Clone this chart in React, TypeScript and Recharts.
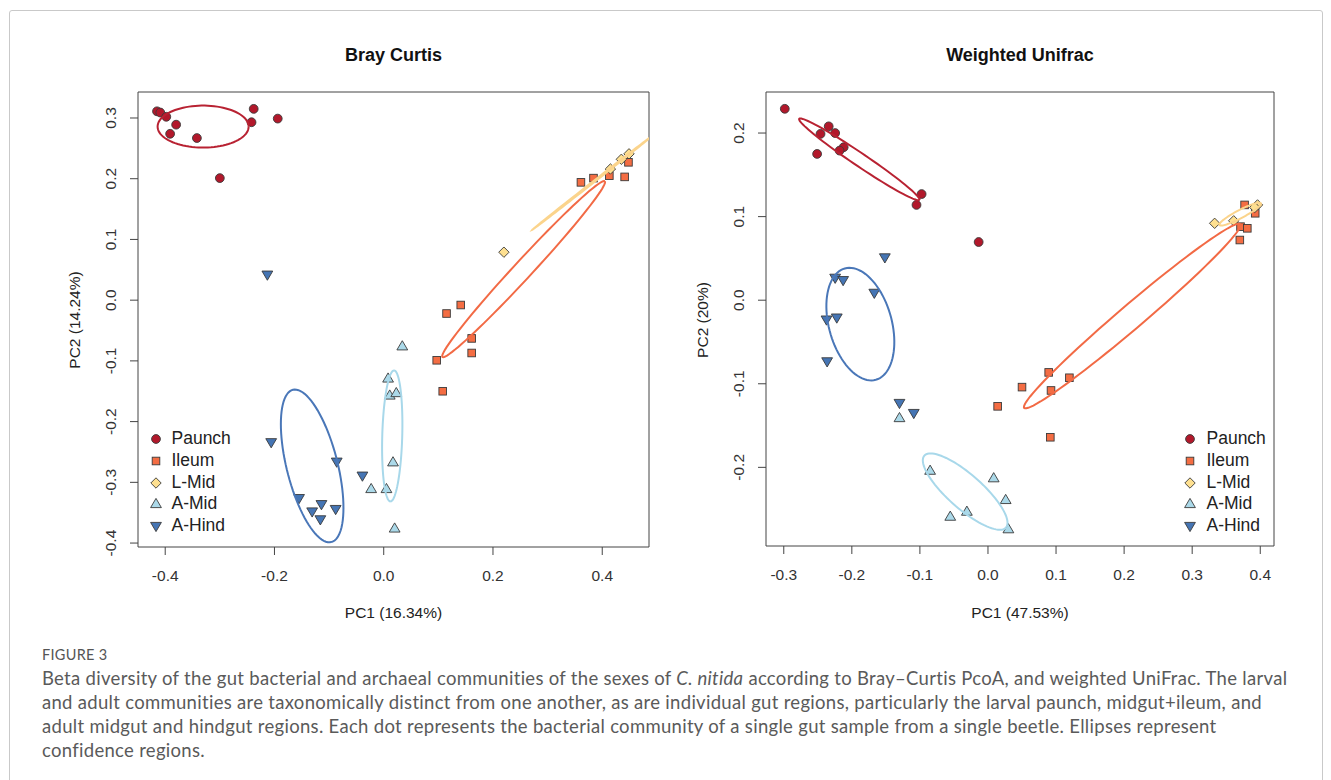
import React from 'react';
import { ScatterChart, Scatter, XAxis, YAxis, ReferenceArea } from 'recharts';

type Pt = { x: number; y: number };

// ---------- categories & styling keys ----------
const groupNames = ['Paunch', 'Ileum', 'L-Mid', 'A-Mid', 'A-Hind'];
const groupFills = ['#B2182B', '#F46D43', '#FEE090', '#ABD9E9', '#4575B4'];
const ellipseStrokes = ['#B82232', '#F26A45', '#FBD48C', '#A8D8EA', '#4A77B8'];
const groupShapes = ['circle', 'square', 'diamond', 'triUp', 'triDown'];

// ---------- Bray Curtis (PC1, PC2) ----------
const bcPaunch: Pt[] = [
  { x: -0.415, y: 0.311 }, { x: -0.409, y: 0.309 }, { x: -0.398, y: 0.302 },
  { x: -0.380, y: 0.289 }, { x: -0.391, y: 0.274 }, { x: -0.342, y: 0.267 },
  { x: -0.300, y: 0.201 }, { x: -0.238, y: 0.315 }, { x: -0.242, y: 0.293 },
  { x: -0.194, y: 0.299 },
];
const bcIleum: Pt[] = [
  { x: 0.361, y: 0.194 }, { x: 0.384, y: 0.201 }, { x: 0.413, y: 0.205 },
  { x: 0.441, y: 0.203 }, { x: 0.448, y: 0.227 }, { x: 0.141, y: -0.008 },
  { x: 0.115, y: -0.022 }, { x: 0.161, y: -0.063 }, { x: 0.161, y: -0.087 },
  { x: 0.097, y: -0.099 }, { x: 0.108, y: -0.150 },
];
const bcLMid: Pt[] = [
  { x: 0.220, y: 0.079 }, { x: 0.415, y: 0.216 }, { x: 0.435, y: 0.232 },
  { x: 0.449, y: 0.241 },
];
const bcAMid: Pt[] = [
  { x: 0.034, y: -0.076 }, { x: 0.008, y: -0.129 }, { x: 0.011, y: -0.157 },
  { x: 0.023, y: -0.153 }, { x: 0.017, y: -0.267 }, { x: -0.023, y: -0.311 },
  { x: 0.005, y: -0.311 }, { x: 0.020, y: -0.376 },
];
const bcAHind: Pt[] = [
  { x: -0.206, y: -0.234 }, { x: -0.086, y: -0.266 }, { x: -0.039, y: -0.289 },
  { x: -0.155, y: -0.326 }, { x: -0.131, y: -0.348 }, { x: -0.114, y: -0.336 },
  { x: -0.088, y: -0.344 }, { x: -0.116, y: -0.361 }, { x: -0.213, y: 0.042 },
];
// ellipse: [centerX, centerY, axis1X, axis1Y, axis2X, axis2Y]
const bcEllipses: number[][] = [
  [-0.3306, 0.2858, 0.0833, 0, 0, 0.0346],
  [0.2561, 0.0511, 0.1486, 0.1447, 0.0121, -0.0101],
  [0.380, 0.192, 0.1077, 0.0759, 0.0008, -0.0009],
  [0.0156, -0.2236, -0.0033, -0.1079, 0.0183, 0],
  [-0.1310, -0.2730, 0.0352, -0.1254, 0.0452, 0.0102],
];
const bcXDomain = [-0.4498, 0.4856];
const bcYDomain = [-0.4065, 0.3428];
const bcXTicks = [-0.4, -0.2, 0.0, 0.2, 0.4];
const bcYTicks = [-0.4, -0.3, -0.2, -0.1, 0.0, 0.1, 0.2, 0.3];

// ---------- Weighted UniFrac (PC1, PC2) ----------
const wuPaunch: Pt[] = [
  { x: -0.2985, y: 0.229 }, { x: -0.234, y: 0.208 }, { x: -0.246, y: 0.199 },
  { x: -0.2245, y: 0.200 }, { x: -0.212, y: 0.183 }, { x: -0.218, y: 0.179 },
  { x: -0.251, y: 0.175 }, { x: -0.0975, y: 0.127 }, { x: -0.105, y: 0.114 },
  { x: -0.0137, y: 0.0696 },
];
const wuIleum: Pt[] = [
  { x: 0.377, y: 0.114 }, { x: 0.3926, y: 0.104 }, { x: 0.371, y: 0.088 },
  { x: 0.381, y: 0.086 }, { x: 0.370, y: 0.072 }, { x: 0.0892, y: -0.0864 },
  { x: 0.1196, y: -0.0928 }, { x: 0.050, y: -0.104 }, { x: 0.0926, y: -0.108 },
  { x: 0.0916, y: -0.164 }, { x: 0.0142, y: -0.127 },
];
const wuLMid: Pt[] = [
  { x: 0.333, y: 0.092 }, { x: 0.361, y: 0.095 }, { x: 0.396, y: 0.114 },
  { x: 0.392, y: 0.111 },
];
const wuAMid: Pt[] = [
  { x: -0.130, y: -0.141 }, { x: -0.085, y: -0.204 }, { x: 0.0084, y: -0.213 },
  { x: 0.026, y: -0.239 }, { x: -0.031, y: -0.253 }, { x: -0.0554, y: -0.259 },
  { x: 0.030, y: -0.274 },
];
const wuAHind: Pt[] = [
  { x: -0.1515, y: 0.0512 }, { x: -0.2245, y: 0.0268 }, { x: -0.2128, y: 0.024 },
  { x: -0.167, y: 0.0088 }, { x: -0.2372, y: -0.0232 }, { x: -0.2221, y: -0.0208 },
  { x: -0.2363, y: -0.0732 }, { x: -0.130, y: -0.123 }, { x: -0.109, y: -0.135 },
];
const wuEllipses: number[][] = [
  [-0.189, 0.1685, 0.0883, -0.0485, -0.00534, -0.00648],
  [0.212, -0.0189, 0.1588, 0.110, 0.0114, -0.011],
  [0.3705, 0.103, 0.0305, 0.013, 0.0027, -0.0043],
  [-0.0335, -0.229, 0.060, -0.043, 0.0165, 0.0154],
  [-0.1875, -0.0286, 0.0228, -0.0666, 0.0444, 0.0101],
];
const wuXDomain = [-0.3261, 0.4202];
const wuYDomain = [-0.2941, 0.2491];
const wuXTicks = [-0.3, -0.2, -0.1, 0.0, 0.1, 0.2, 0.3, 0.4];
const wuYTicks = [-0.2, -0.1, 0.0, 0.1, 0.2];

const captionLines = [
  'and adult communities are taxonomically distinct from one another, as are individual gut regions, particularly the larval paunch, midgut+ileum, and',
  'adult midgut and hindgut regions. Each dot represents the bacterial community of a single gut sample from a single beetle. Ellipses represent',
  'confidence regions.',
];

// ---------- helpers ----------
const FONT = '"Liberation Sans", Arial, Helvetica, sans-serif';
const TICK_SIZE = 15.5;

function ellipsePoints(e: number[]): Pt[] {
  const [cx, cy, ax, ay, bx, by] = e;
  const pts: Pt[] = [];
  const n = 90;
  for (let i = 0; i <= n; i++) {
    const t = (i / n) * Math.PI * 2;
    pts.push({ x: cx + Math.cos(t) * ax + Math.sin(t) * bx, y: cy + Math.cos(t) * ay + Math.sin(t) * by });
  }
  return pts;
}

function Marker({ kind, cx, cy, fill }: { kind: string; cx: number; cy: number; fill: string }) {
  const st = { fill, stroke: '#3a3a3a', strokeWidth: 0.9 };
  if (kind === 'circle') return <circle cx={cx} cy={cy} r={4.4} {...st} />;
  if (kind === 'square') return <rect x={cx - 3.8} y={cy - 3.8} width={7.6} height={7.6} {...st} />;
  if (kind === 'diamond')
    return <polygon points={`${cx},${cy - 5.2} ${cx + 5.2},${cy} ${cx},${cy + 5.2} ${cx - 5.2},${cy}`} {...st} />;
  if (kind === 'triUp')
    return <polygon points={`${cx},${cy - 5.6} ${cx + 5.4},${cy + 3.6} ${cx - 5.4},${cy + 3.6}`} {...st} />;
  return <polygon points={`${cx - 5.4},${cy - 3.6} ${cx + 5.4},${cy - 3.6} ${cx},${cy + 5.6}`} {...st} />;
}

const fmt = (v: number) => (Math.abs(v) < 1e-9 ? '0.0' : v.toFixed(1));

const XTick = (p: any) => (
  <text x={p.x} y={p.y} dy="0.71em" textAnchor="middle" fontSize={TICK_SIZE} fill="#333" fontFamily={FONT}>
    {fmt(p.payload.value)}
  </text>
);
const YTick = (p: any) => (
  <text x={p.x} y={p.y} textAnchor="middle" fontSize={TICK_SIZE} fill="#333" fontFamily={FONT}
    transform={`rotate(-90 ${p.x} ${p.y})`}>
    {fmt(p.payload.value)}
  </text>
);

type PanelProps = {
  series: Pt[][];
  ellipses: number[][];
  xDomain: number[];
  yDomain: number[];
  xTicks: number[];
  yTicks: number[];
  width: number;
  height: number;
  margin: { top: number; right: number; bottom: number; left: number };
};

function Panel(p: PanelProps) {
  return (
    <ScatterChart width={p.width} height={p.height} margin={p.margin}>
      <XAxis type="number" dataKey="x" domain={p.xDomain} ticks={p.xTicks} allowDataOverflow interval={0}
        axisLine={false} tickLine={{ stroke: '#444' }} tickSize={8} tickMargin={15} height={60} tick={XTick} />
      <YAxis type="number" dataKey="y" domain={p.yDomain} ticks={p.yTicks} allowDataOverflow interval={0}
        axisLine={false} tickLine={{ stroke: '#444' }} tickSize={8} tickMargin={14} width={60} tick={YTick} />
      <ReferenceArea x1={p.xDomain[0]} x2={p.xDomain[1]} y1={p.yDomain[0]} y2={p.yDomain[1]}
        fill="none" fillOpacity={0} stroke="#444" strokeWidth={1} ifOverflow="visible" />
      {p.series.map((data, i) => (
        <Scatter key={'s' + i} name={groupNames[i]} data={data} isAnimationActive={false}
          shape={(sp: any) => <Marker kind={groupShapes[i]} cx={sp.cx} cy={sp.cy} fill={groupFills[i]} />} />
      ))}
      {p.ellipses.map((e, i) => (
        <Scatter key={'e' + i} data={ellipsePoints(e)} isAnimationActive={false} fill={ellipseStrokes[i]}
          line={{ stroke: ellipseStrokes[i], strokeWidth: 2 }} lineType="joint" shape={() => <g />} />
      ))}
    </ScatterChart>
  );
}

function Txt({ x, y, size, children, bold, rotate, color, family }: any) {
  return (
    <div style={{
      position: 'absolute', left: x, top: y, transform: `translate(-50%, -50%)${rotate ? ' rotate(-90deg)' : ''}`,
      fontSize: size, fontWeight: bold ? 700 : 400, fontFamily: family || FONT, color: color || '#222',
      whiteSpace: 'nowrap', lineHeight: 1,
    }}>{children}</div>
  );
}

function Legend({ mx, tx }: { mx: number; tx: number }) {
  const rows = [439, 461, 482.5, 503.5, 525.5];
  return (
    <>
      {groupNames.map((g, i) => (
        <React.Fragment key={g}>
          <svg style={{ position: 'absolute', left: mx - 8, top: rows[i] - 8 }} width={16} height={16}>
            <Marker kind={groupShapes[i]} cx={8} cy={8} fill={groupFills[i]} />
          </svg>
          <div style={{ position: 'absolute', left: tx, top: rows[i], transform: 'translateY(-50%)', fontSize: 17.5,
            fontFamily: FONT, color: '#222', whiteSpace: 'nowrap', lineHeight: 1 }}>{g}</div>
        </React.Fragment>
      ))}
    </>
  );
}

export default function App() {
  const captionStyle: React.CSSProperties = {
    position: 'absolute', left: 42, fontFamily: 'Lato, "Open Sans", sans-serif', fontSize: 18.5,
    letterSpacing: 0.3, color: '#5a5a5a', whiteSpace: 'nowrap', lineHeight: '24px',
  };
  return (
    <div style={{ position: 'absolute', left: 0, top: 0, width: 1331, height: 780, overflow: 'hidden', background: '#fff' }}>
      <div style={{ position: 'absolute', left: 9, top: 10, width: 1312, height: 820, border: '1.5px solid #c9c9c9', borderRadius: 3 }} />

      <div style={{ position: 'absolute', left: 0, top: 0 }}>
        <Panel series={[bcPaunch, bcIleum, bcLMid, bcAMid, bcAHind]} ellipses={bcEllipses}
          xDomain={bcXDomain} yDomain={bcYDomain} xTicks={bcXTicks} yTicks={bcYTicks}
          width={660} height={640} margin={{ top: 92, right: 11, bottom: 33, left: 78 }} />
      </div>
      <div style={{ position: 'absolute', left: 690, top: 0 }}>
        <Panel series={[wuPaunch, wuIleum, wuLMid, wuAMid, wuAHind]} ellipses={wuEllipses}
          xDomain={wuXDomain} yDomain={wuYDomain} xTicks={wuXTicks} yTicks={wuYTicks}
          width={600} height={640} margin={{ top: 92, right: 16, bottom: 34, left: 16 }} />
      </div>

      <Txt x={393.5} y={55} size={18} bold color="#111">Bray Curtis</Txt>
      <Txt x={1020} y={55} size={18} bold color="#111">Weighted Unifrac</Txt>
      <Txt x={393.5} y={613} size={15.5} color="#222">PC1 (16.34%)</Txt>
      <Txt x={1020} y={613} size={15.5} color="#222">PC1 (47.53%)</Txt>
      <Txt x={75} y={320} size={15.5} rotate color="#222">PC2 (14.24%)</Txt>
      <Txt x={703} y={320} size={15.5} rotate color="#222">PC2 (20%)</Txt>

      <Legend mx={156} tx={171.5} />
      <Legend mx={1190} tx={1206.5} />

      <div style={{ ...captionStyle, top: 645, fontSize: 14.5, letterSpacing: 0.3, color: '#555', lineHeight: '20px' }}>FIGURE 3</div>
      <div style={{ ...captionStyle, top: 666 }}>
        Beta diversity of the gut bacterial and archaeal communities of the sexes of <i>C. nitida</i> according to Bray–Curtis PcoA, and weighted UniFrac. The larval
      </div>
      {captionLines.map((l, i) => (
        <div key={i} style={{ ...captionStyle, top: 690 + i * 24 }}>{l}</div>
      ))}
    </div>
  );
}
